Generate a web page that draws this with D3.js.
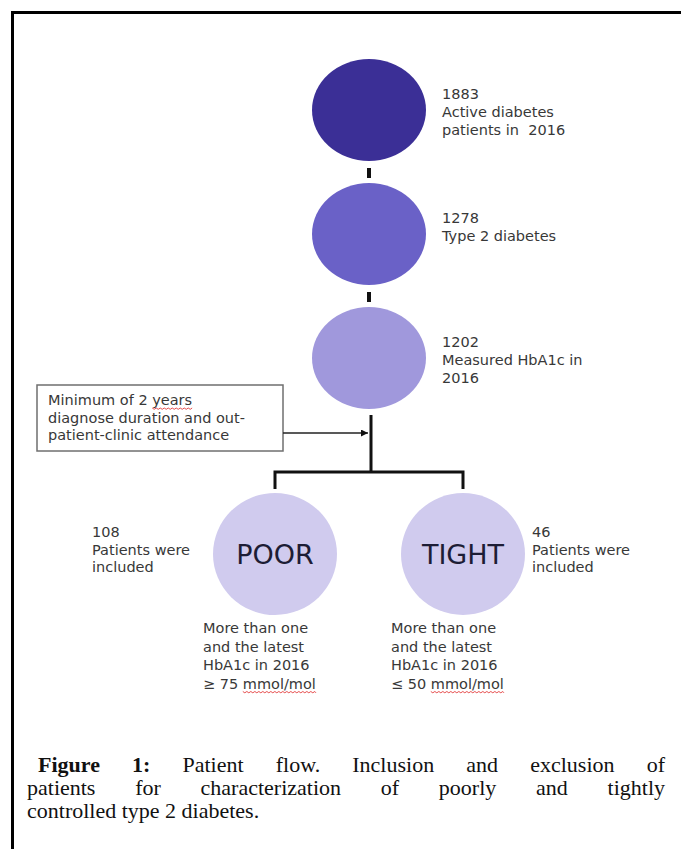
<!DOCTYPE html>
<html>
<head>
<meta charset="utf-8">
<script src="https://cdn.jsdelivr.net/npm/d3@7"></script>
<style>
    body { margin: 0; background: #fff; }
    svg { display: block; }
    .lbl { font-family: Verdana, "DejaVu Sans", sans-serif; font-size: 14.5px; fill: #383838; white-space: pre; }
    .cap { font-family: "Liberation Serif", "Times New Roman", serif; font-size: 22px; fill: #111; }
</style>
</head>
<body>
<script>
// stages down the main column
var stageCounts = [1883, 1278, 1202];
var stageLabels = [["Active diabetes", "patients in  2016"], ["Type 2 diabetes"], ["Measured HbA1c in", "2016"]];
var stageColors = ["#3b2f96", "#6a61c7", "#a098dc"];

// the two groups at the bottom
var groupNames = ["POOR", "TIGHT"];
var groupCounts = [108, 46];
var groupCountLabels = [["Patients were", "included"], ["Patients were", "included"]];
var groupCriteria = [
    ["More than one", "and the latest", "HbA1c in 2016", "\u2265 75 mmol/mol"],
    ["More than one", "and the latest", "HbA1c in 2016", "\u2264 50 mmol/mol"]
];
var groupColor = "#d0cbee";

var exclusionText = ["Minimum of 2 years", "diagnose duration and out-", "patient-clinic attendance"];

var captionLines = [
    "Figure 1: Patient flow. Inclusion and exclusion of",
    "patients for characterization of poorly and tightly",
    "controlled type 2 diabetes."
];

var W = 681, H = 849;

var svg = d3.select("body").append("svg")
    .attr("width", W).attr("height", H);

svg.append("rect").attr("width", W).attr("height", H).attr("fill", "#fff");

// frame (only top and left edge visible)
svg.append("path")
    .attr("d", "M12.5," + H + "V12.5H" + W)
    .attr("fill", "none").attr("stroke", "#000").attr("stroke-width", 3);

var cx = 369;
var y = d3.scalePoint().domain(d3.range(stageCounts.length)).range([110, 358]);
var gx = d3.scalePoint().domain(groupNames).range([275, 463]);

var stageRx = 57, stageRy = 51;

// short bars between the stages
for (var i = 0; i < stageCounts.length - 1; i++) {
    svg.append("line")
        .attr("x1", cx).attr("x2", cx)
        .attr("y1", y(i) + stageRy + 7).attr("y2", y(i) + stageRy + 17)
        .attr("stroke", "#111").attr("stroke-width", 4);
}

var stages = svg.selectAll("g.stage")
    .data(stageCounts.map((c, i) => ({count: c, lines: stageLabels[i], color: stageColors[i], i: i})))
    .enter().append("g").classed("stage", true);

stages.append("ellipse")
    .attr("cx", cx).attr("cy", d => y(d.i))
    .attr("rx", stageRx).attr("ry", stageRy)
    .attr("fill", d => d.color);

stages.each(function (d) {
    var g = d3.select(this);
    var lines = [String(d.count)].concat(d.lines);
    var y0 = y(d.i) - 11;
    lines.forEach((t, k) => {
        g.append("text").classed("lbl", true)
            .attr("x", 442).attr("y", y0 + k * 18)
            .text(t);
    });
});

// tree below the last stage
var last = y(stageCounts.length - 1);
var splitY = 472;
var stem = 371;
var tree = svg.append("g").attr("fill", "none").attr("stroke", "#111").attr("stroke-width", 3);
tree.append("path").attr("d", "M" + stem + "," + (last + stageRy + 6) + "V" + splitY);
tree.append("path").attr("d", "M" + gx("POOR") + "," + (splitY + 17) + "V" + splitY + "H" + gx("TIGHT") + "V" + (splitY + 17));

// exclusion box + arrow
var box = {x: 37, y: 385, w: 246, h: 66};
svg.append("rect")
    .attr("x", box.x).attr("y", box.y).attr("width", box.w).attr("height", box.h)
    .attr("fill", "#fff").attr("stroke", "#6f6f6f").attr("stroke-width", 1.5);

exclusionText.forEach((t, k) => {
    svg.append("text").classed("lbl", true)
        .attr("x", 48).attr("y", 405 + k * 17.5)
        .text(t);
});

svg.append("defs").append("marker")
    .attr("id", "arr").attr("viewBox", "0 0 10 10")
    .attr("refX", 10).attr("refY", 5)
    .attr("markerWidth", 7).attr("markerHeight", 7)
    .attr("markerUnits", "userSpaceOnUse")
    .attr("orient", "auto")
    .append("path").attr("d", "M0,0L10,5L0,10Z").attr("fill", "#111");

svg.append("line")
    .attr("x1", box.x + box.w).attr("x2", stem - 3)
    .attr("y1", 433).attr("y2", 433)
    .attr("stroke", "#222").attr("stroke-width", 1.5)
    .attr("marker-end", "url(#arr)");

// group circles
var groups = svg.selectAll("g.group")
    .data(groupNames.map((n, i) => ({name: n, count: groupCounts[i], lines: groupCountLabels[i], crit: groupCriteria[i], i: i})))
    .enter().append("g").classed("group", true);

var gcy = 554;

groups.append("ellipse")
    .attr("cx", d => gx(d.name)).attr("cy", gcy)
    .attr("rx", 62).attr("ry", 61)
    .attr("fill", groupColor);

groups.append("text")
    .attr("x", d => gx(d.name)).attr("y", gcy + 10)
    .attr("text-anchor", "middle")
    .attr("font-family", "Verdana, 'DejaVu Sans', sans-serif")
    .attr("font-size", 27)
    .attr("fill", "#1d1d35")
    .text(d => d.name);

function squiggle(textSel, word)
{
    var node = textSel.node();
    var s = node.textContent;
    var idx = s.indexOf(word);
    if (idx < 0) return;
    var x0 = node.getStartPositionOfChar(idx).x;
    var x1 = node.getEndPositionOfChar(idx + word.length - 1).x;
    var by = +textSel.attr("y") + 3;
    var d = "M" + x0 + "," + by;
    for (var xx = x0, up = true; xx < x1; xx += 2, up = !up)
        d += "L" + Math.min(xx + 2, x1) + "," + (by + (up ? 1.3 : 0));
    svg.append("path").attr("d", d).attr("fill", "none")
        .attr("stroke", "#e23b3b").attr("stroke-width", 0.9);
}

groups.each(function (d) {
    var g = d3.select(this);
    var lx = d.i == 0 ? 92 : 532;
    [String(d.count)].concat(d.lines).forEach((t, k) => {
        g.append("text").classed("lbl", true)
            .attr("x", lx).attr("y", 537 + k * 17.5)
            .text(t);
    });
    var tx = gx(d.name) - 72;
    d.crit.forEach((t, k) => {
        var txt = g.append("text").classed("lbl", true)
            .attr("x", tx).attr("y", 633 + k * 18.5)
            .text(t);
        if (t.indexOf("mmol/mol") >= 0)
            squiggle(txt, "mmol/mol");
    });
});

squiggle(d3.select(svg.selectAll("text").filter(function () { return this.textContent == exclusionText[0]; }).node()), "years");

// caption, justified by hand
var capRight = 665;
captionLines.forEach((line, li) => {
    var words = line.split(" ");
    var left = li == 0 ? 38 : 27;
    var by = 772 + li * 23;
    var nodes = words.map((w, wi) => {
        return svg.append("text").classed("cap", true)
            .attr("y", by)
            .attr("font-weight", (li == 0 && wi < 2) ? "bold" : null)
            .text(w);
    });
    var widths = nodes.map(n => n.node().getComputedTextLength());
    var total = d3.sum(widths);
    var gap = li == captionLines.length - 1 ? 5.5 : (capRight - left - total) / (words.length - 1);
    var xx = left;
    nodes.forEach((n, k) => {
        n.attr("x", xx);
        xx += widths[k] + gap;
    });
});
</script>
</body>
</html>
